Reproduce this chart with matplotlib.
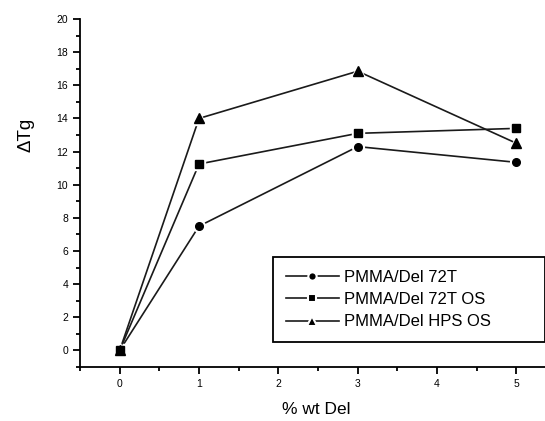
import matplotlib
matplotlib.use('Agg')
import matplotlib.pyplot as plt
from matplotlib.lines import Line2D
from matplotlib.ticker import MultipleLocator

wt_del = [0, 1, 3, 5]
tg_72t = [0, 7.5, 12.3, 11.35]
tg_72t_os = [0, 11.25, 13.1, 13.4]
tg_hps_os = [0, 14.0, 16.85, 12.5]
labels = ["PMMA/Del 72T", "PMMA/Del 72T OS", "PMMA/Del HPS OS"]

plt.rcParams['font.family'] = ['Liberation Sans', 'DejaVu Sans']

fig = plt.figure(figsize=(5.45, 4.21), dpi=100)
ax = fig.add_axes([80 / 545, 54 / 421, 1 - 80 / 545, (367 - 19) / 421])

series = [tg_72t, tg_72t_os, tg_hps_os]
markers = ['o', 's', '^']
msizes = [5.5, 5.5, 7]

# lines with white gaps around the points
for vals, m, ms in zip(series, markers, msizes):
    ax.plot(wt_del, vals, color='#1a1a1a', lw=1.2, marker=m, markersize=ms + 3,
            markerfacecolor='white', markeredgecolor='white', zorder=2)
# black points on top
for vals, m, ms in zip(series, markers, msizes):
    ax.plot(wt_del, vals, ls='none', marker=m, markersize=ms,
            markerfacecolor='black', markeredgecolor='black', zorder=3)

ax.set_xlim(-0.5, 5.36)
ax.set_ylim(-1, 20)
ax.xaxis.set_major_locator(MultipleLocator(1))
ax.xaxis.set_minor_locator(MultipleLocator(0.5))
ax.yaxis.set_major_locator(MultipleLocator(2))
ax.yaxis.set_minor_locator(MultipleLocator(1))
ax.tick_params(which='major', length=5, width=1.3, labelsize=7.5, direction='out')
ax.tick_params(which='minor', length=3, width=1.3, direction='out')
for s in ['top', 'right']:
    ax.spines[s].set_visible(False)
for s in ['left', 'bottom']:
    ax.spines[s].set_linewidth(1.3)
ax.spines['left'].set_bounds(-1, 20)

fig.text(26 / 545, 1 - 135 / 421, "ΔTg", rotation=90, fontsize=13.5,
         ha='center', va='center')
fig.text(316 / 545, 1 - 410 / 421, "% wt Del", fontsize=12.5,
         ha='center', va='center')

handles = [Line2D([], [], color='#1a1a1a', lw=1.2, marker=m, markersize=ms,
                  markerfacecolor='black', markeredgecolor='white', markeredgewidth=1.5)
           for m, ms in zip(markers, [6, 6, 7.5])]
leg = ax.legend(handles, labels, loc='lower left',
                bbox_to_anchor=(273 / 545, 79 / 421, 1 - 273 / 545, 88 / 421),
                bbox_transform=fig.transFigure, mode='expand', fancybox=False,
                edgecolor='black', fontsize=12, handlelength=3.2, handletextpad=0.3,
                labelspacing=0.45, borderpad=0.75, borderaxespad=0, framealpha=1)
leg.get_frame().set_linewidth(1.3)

fig.savefig('out.png', dpi=100)
